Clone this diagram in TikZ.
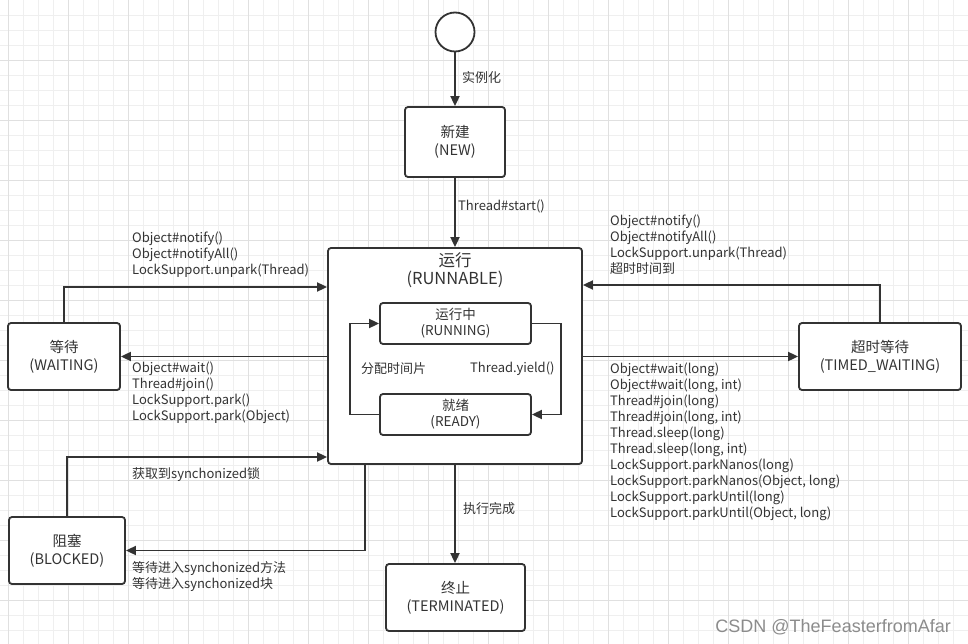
\documentclass[tikz,border=0pt]{standalone}
\usepackage{fontspec}
\setmainfont{Noto Sans CJK SC}
\newfontfamily\markfont{Liberation Sans}
\usetikzlibrary{arrows.meta}
\definecolor{ink}{HTML}{333333}
\definecolor{gridminor}{HTML}{EFEFEF}
\definecolor{gridmajor}{HTML}{E0E0E0}
\definecolor{markgray}{HTML}{8C8C8C}
\tikzset{
  state/.style={draw=ink,line width=1.8pt,rounded corners=3pt,fill=white,text=ink,
    align=center,inner sep=0pt,font=\fontsize{14.5}{18}\selectfont},
  substate/.style={state,font=\fontsize{13.5}{16}\selectfont,minimum width=151pt,minimum height=41pt},
  flow/.style={draw=ink,line width=1.8pt,-{Triangle[length=10pt,width=9pt]}},
  lbl/.style={text=ink,align=left,anchor=west,inner sep=0pt,font=\fontsize{13}{16}\selectfont},
  gridline/.style={line width=0.8pt}
}
\begin{document}
\begin{tikzpicture}[x=1pt,y=-1pt]
\useasboundingbox (0,0) rectangle (968,644);
\fill[white] (0,0) rectangle (968,644);
\foreach \x in {8,23,...,968} \draw[gridline,gridminor] (\x,0) -- (\x,644);
\foreach \y in {15,30,...,644} \draw[gridline,gridminor] (0,\y) -- (968,\y);
\foreach \x in {8,68,...,968} \draw[gridline,gridmajor] (\x,0) -- (\x,644);
\foreach \y in {60,120,...,644} \draw[gridline,gridmajor] (0,\y) -- (968,\y);

\node[state,circle,minimum size=39pt] (start) at (455,32) {};
\node[state,minimum width=100pt,minimum height=70pt] (new) at (455,142) {新建\\(NEW)};
\node[state,minimum width=254pt,minimum height=216pt] (runnable) at (455,356) {};
\node[text=ink,align=center,inner sep=0pt,font=\fontsize{16.5}{18}\selectfont] (runtitle) at (455,270) {运行\\(RUNNABLE)};
\node[substate] (running) at (455.5,323.5) {运行中\\(RUNNING)};
\node[substate] (ready) at (455.5,414.5) {就绪\\(READY)};
\node[state,minimum width=112pt,minimum height=67pt] (waiting) at (64,356.5) {等待\\(WAITING)};
\node[state,minimum width=162pt,minimum height=67pt] (timed) at (880,356.5) {超时等待\\(TIMED\_WAITING)};
\node[state,minimum width=116pt,minimum height=67pt] (blocked) at (67,550.5) {阻塞\\(BLOCKED)};
\node[state,minimum width=139pt,minimum height=67pt] (term) at (455.5,597.5) {终止\\(TERMINATED)};

\draw[flow] (start) -- (new);
\node[lbl] (linit) at (462,78) {实例化};
\draw[flow] (new) -- (runnable);
\node[lbl] (lstart) at (458,206) {Thread\#start()};

\draw[flow] (ready.west) -- ++(-29,0) |- (running.west);
\node[lbl] (lslice) at (361,369) {分配时间片};
\draw[flow] (running.east) -- ++(29,0) |- (ready.east);
\node[lbl] (lyield) at (470,369) {Thread.yield()};

\draw[flow] (waiting.north) |- ([yshift=69pt]runnable.west);
\node[lbl] (lwake) at (132,255) {Object\#notify()\\Object\#notifyAll()\\LockSupport.unpark(Thread)};
\draw[flow] (runnable.west |- waiting.east) -- (waiting.east);
\node[lbl] (lwait) at (132,393) {Object\#wait()\\Thread\#join()\\LockSupport.park()\\LockSupport.park(Object)};

\draw[flow] (timed.north) |- ([yshift=71pt]runnable.east);
\node[lbl] (ltwake) at (610,245) {Object\#notify()\\Object\#notifyAll()\\LockSupport.unpark(Thread)\\超时时间到};
\draw[flow] (runnable.east |- timed.west) -- (timed.west);
\node[lbl] (ltwait) at (610,442) {Object\#wait(long)\\Object\#wait(long, int)\\Thread\#join(long)\\Thread\#join(long, int)\\Thread.sleep(long)\\Thread.sleep(long, int)\\LockSupport.parkNanos(long)\\LockSupport.parkNanos(Object, long)\\LockSupport.parkUntil(long)\\LockSupport.parkUntil(Object, long)};

\draw[flow] (blocked.north) |- ([yshift=-101pt]runnable.west);
\node[lbl] (llock) at (132,475) {获取到synchonized锁};
\draw[flow] ([xshift=-90pt]runnable.south) |- (blocked.east);
\node[lbl] (lsync) at (132,577) {等待进入synchonized方法\\等待进入synchonized块};

\draw[flow] (runnable.south) -- (runnable.south |- term.north);
\node[lbl] (ldone) at (463,509) {执行完成};

\node[text=markgray,anchor=east,inner sep=0pt,font=\markfont\fontsize{18}{20}\selectfont] (mark) at (951,627) {CSDN @TheFeasterfromAfar};
\end{tikzpicture}
\end{document}
